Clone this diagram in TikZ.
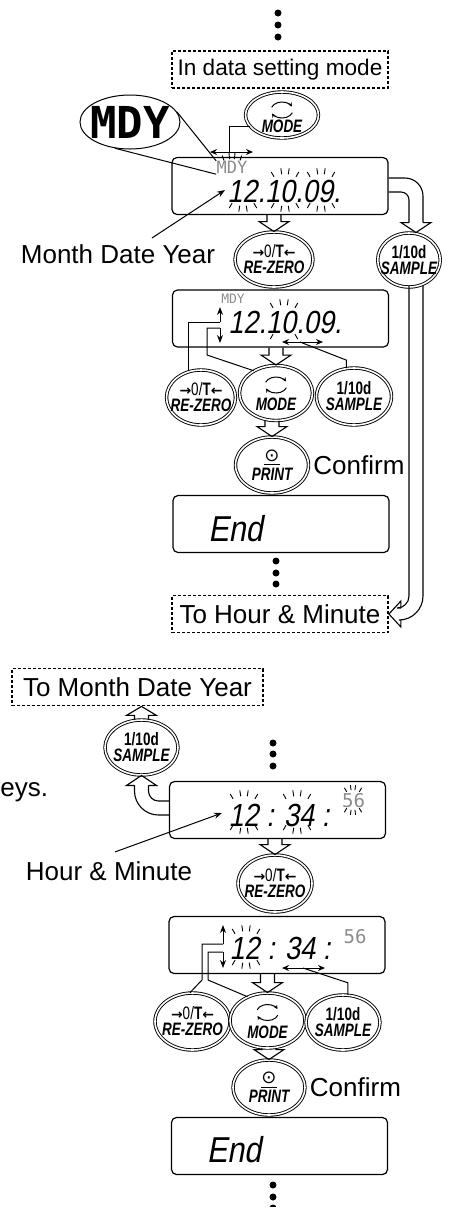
\documentclass[tikz,border=0pt]{standalone}
\usepackage{fontspec}
\setmainfont{Liberation Sans}
\newfontfamily\keyfont[FakeStretch=0.75]{Liberation Sans}
\newfontfamily\segfont[FakeSlant=0.18,FakeStretch=0.85]{Liberation Sans}
\newfontfamily\dotfont{DejaVu Sans Mono}
\newfontfamily\symfont{DejaVu Sans}
\usetikzlibrary{arrows.meta, positioning, shapes.geometric, calc}
\tikzset{
  every picture/.style={line width=0.5pt},
  lcd/.style={draw, rounded corners=2.5pt, minimum width=108pt, minimum height=28.5pt, inner sep=0pt, line width=0.6pt},
  key/.style={draw, ellipse, double, double distance=0.8pt, line width=0.45pt, minimum width=37pt, minimum height=27.5pt, inner xsep=-3pt, inner ysep=0pt, align=center, font=\keyfont\fontsize{9}{8}\selectfont\bfseries},
  gobox/.style={draw, dash pattern=on 1.5pt off 1pt, line width=0.9pt, minimum height=18.5pt, inner sep=1pt, font=\fontsize{13}{15}\selectfont},
  lbl/.style={inner sep=0pt, font=\fontsize{13}{15}\selectfont},
  seg/.style={inner sep=0pt, font=\segfont\fontsize{16}{16}\selectfont},
  dm/.style={inner sep=0pt, text=black!45, font=\dotfont\fontsize{8.5}{8.5}\selectfont},
  hollow/.style={draw, line width=0.55pt, line join=miter},
  conn/.style={draw, line width=0.5pt},
  arr/.style={-{Stealth[length=4pt, width=3pt]}, line width=0.5pt},
  arrs/.style={{Stealth[length=3.5pt, width=3pt]}-{Stealth[length=3.5pt, width=3pt]}, line width=0.5pt},
  tick/.style={line width=0.45pt},
  symarr/.style={-{Stealth[length=2pt, width=2pt]}, line width=0.5pt},
}
\newcommand{\zerokey}{{\symfont\fontsize{7}{7}\selectfont →}\mdseries 0/\bfseries T{\symfont\fontsize{7}{7}\selectfont ←}\\\itshape RE-ZERO}

\begin{document}
\begin{tikzpicture}[x=0.5pt, y=-0.5pt]
  \useasboundingbox (0,0) rectangle (451,1207);
  \newcommand{\hollowdown}[2]{% hollow arrow from the bottom of #1 to the top of #2
    \draw[hollow] ($(#1.south -| #2.north)+(-7,0)$) -- ($(#2.north)+(-7,-10)$) -- ($(#2.north)+(-15,-10)$) -- (#2.north)
      -- ($(#2.north)+(15,-10)$) -- ($(#2.north)+(7,-10)$) -- ($(#1.south -| #2.north)+(7,0)$);}
  \newcommand{\blink}[4]{% centre, inner radii, outer radii, angles
    \foreach \a in {#4} {\draw[tick] ($(#1)+(\a:#2)$) -- ($(#1)+(\a:#3)$);}}
  \newcommand{\modesym}[2]{% circling arrows of a MODE key
    \coordinate (sym) at ($(#1.center)+(0,#2)$);
    \draw[symarr] ($(sym)+(160:5.5pt and 4pt)$) arc[start angle=160, end angle=25, x radius=5.5pt, y radius=4pt];
    \draw[symarr] ($(sym)+(340:5.5pt and 4pt)$) arc[start angle=340, end angle=205, x radius=5.5pt, y radius=4pt];}

  % ---- month date year ----
  \foreach \y in {13,25,37} {\fill (278,\y) circle (1.75pt);}
  \node[gobox, minimum width=108pt, font=\fontsize{11.3}{13}\selectfont] (setmode) at (280,69.5) {In data setting mode};

  \node[draw, ellipse, minimum width=50pt, minimum height=27pt, inner xsep=-3.5pt, inner ysep=-0.5pt,
        font=\dotfont\bfseries\fontsize{22}{22}\selectfont] (mdybig) at (130,122) {MDY};
  \node[key, minimum width=36.5pt, minimum height=23pt, inner ysep=-1.5pt] (modeA) at (282,115) {\rule{0pt}{10pt}\\\itshape MODE};
  \modesym{modeA}{-5}

  \node[lcd] (dispA) at (280,186) {};
  \node[dm] (mdyA) at (232,167.5) {MDY};
  \node[seg] (digA) at (284,191.5) {12.10.09.};
  \blink{232,167}{14 and 8}{17 and 14}{235,260,280,305}
  \blink{243,190}{19 and 16}{24 and 22}{55,80,100,125}
  \blink{285,190}{19 and 16}{24 and 22}{235,260,280,305,55,80,100,125}
  \blink{321,190}{19 and 16}{24 and 22}{235,260,280,305,55,80,100,125}
  \draw[conn] (mdybig.12) -- (mdyA.north west);
  \draw[conn] (mdybig.240) -- (mdyA.south west);
  \coordinate (lrA) at (229,152);
  \draw[arrs] ($(lrA)+(-19,0)$) -- ($(lrA)+(24,0)$);
  \draw[conn] (modeA.200) -| (lrA);

  \node[lbl] (mdylbl) at (118,254) {Month Date Year};
  \coordinate (mdytip) at (225,190);
  \draw[arr] ($(mdylbl.north)+(34,-6)$) -- (mdytip);

  \node[key, minimum width=39pt] (zeroA) at (274,259.5) {\zerokey};
  \node[key, minimum width=31pt, minimum height=27pt] (sampleA) at (409,260) {1/10d\\\itshape SAMPLE};
  \hollowdown{dispA}{zeroA}

  % to hour and minute, round the right side
  \coordinate (tipA) at ($(sampleA.north)+(7,0)$);
  \draw[hollow, rounded corners=9pt] ($(dispA.east)+(0,-8)$) -| ($(tipA)+(7,-10)$);
  \draw[hollow, rounded corners=4pt] ($(dispA.east)+(0,6)$) -| ($(tipA)+(-7,-10)$);
  \draw[hollow] ($(tipA)+(-7,-10)$) -- ($(tipA)+(-15,-10)$) -- (tipA) -- ($(tipA)+(15,-10)$) -- ($(tipA)+(7,-10)$);

  \node[lcd] (dispB) at (280.5,318.5) {};
  \node[dm, font=\dotfont\fontsize{6.5}{6.5}\selectfont] (mdyB) at (233,299) {MDY};
  \node[seg] (digB) at (285,322) {12.10.09.};
  \blink{284,321}{19 and 16}{24 and 22}{235,260,280,305,55,125}

  \node[key, minimum width=34pt] (zeroB) at (201,397.5) {\zerokey};
  \node[key, minimum width=36.5pt] (modeB) at (276,393) {\rule{0pt}{10pt}\\\itshape MODE};
  \node[key, minimum width=37.5pt, minimum height=28.5pt] (sampleB) at (354,396.5) {1/10d\\\itshape SAMPLE};
  \modesym{modeB}{-8}
  \hollowdown{dispB}{modeB}
  \coordinate (upB) at (220,322);
  \coordinate (downB) at (220,328);
  \coordinate (lrB) at (300,342);
  \draw[arr] (upB) -- ++(0,-15);
  \draw[arr] (downB) -- ++(0,15);
  \draw[arrs] ($(lrB)+(-18,0)$) -- ($(lrB)+(23,0)$);
  \draw[conn] (zeroB.116) |- (upB);
  \draw[conn] (modeB.135) -- ($(downB)+(-13,27)$) |- (downB);
  \draw[conn] (sampleB.105) -- ++(0,-8) -- (lrB);

  \node[key, minimum width=36.5pt, minimum height=28pt] (printA) at (272,465) {\underline{\symfont\mdseries ⊙}\\\itshape PRINT};
  \node[lbl, right=2pt of printA] (confA) {Confirm};
  \hollowdown{modeB}{printA}

  \node[lcd] (endA) at (281,524) {};
  \node[seg, font=\segfont\fontsize{18}{18}\selectfont] (endtxtA) at (235.5,528.5) {End};
  \foreach \y in {561,573,584} {\fill (276,\y) circle (1.75pt);}
  \node[gobox, minimum width=108pt] (tohour) at (280,614) {To Hour \& Minute};

  % long pipe from the SAMPLE key down to "To Hour & Minute"
  \coordinate (pipeTop) at ($(sampleA.south)+(7,-2)$);
  \draw[hollow, rounded corners=6pt] ($(pipeTop)+(-7,0)$) |- ($(tohour.east)+(12,-6)$);
  \draw[hollow, rounded corners=12pt] ($(pipeTop)+(7,0)$) |- ($(tohour.east)+(12,6)$);
  \draw[hollow] ($(tohour.east)+(12,-6)$) -- ($(tohour.east)+(12,-13)$) -- (tohour.east) -- ($(tohour.east)+(12,13)$) -- ($(tohour.east)+(12,6)$);

  % ---- hour and minute ----
  \node[gobox, minimum width=125.5pt] (tomdy) at (137.5,687) {To Month Date Year};
  \node[key, minimum width=36.5pt] (sampleC) at (141.5,747.5) {1/10d\\\itshape SAMPLE};
  \draw[hollow] ($(sampleC.north)+(-7,0)$) -- ($(sampleC.north |- tomdy.south)+(-7,9)$) -- ($(sampleC.north |- tomdy.south)+(-15,9)$)
    -- (sampleC.north |- tomdy.south) -- ($(sampleC.north |- tomdy.south)+(15,9)$) -- ($(sampleC.north |- tomdy.south)+(7,9)$) -- ($(sampleC.north)+(7,0)$);
  \node[lbl, anchor=base west] (keysnote) at (0,796) {eys.};

  \foreach \y in {743,754,766} {\fill (273,\y) circle (1.75pt);}
  \node[lcd] (dispC) at (277.5,810) {};
  \node[seg] (digC) at (279,815) {12 : 34 :};
  \node[dm, font=\dotfont\fontsize{9.5}{9.5}\selectfont] (secC) at (353.5,801) {56};
  \blink{244,812}{19 and 16}{24 and 22}{235,260,280,305,55,80,100,125}
  \blink{297,812}{19 and 16}{24 and 22}{235,260,280,305,55,80,100,125}
  \blink{353,800}{11 and 10}{15 and 15}{235,260,280,305,55,80,100,125}

  \coordinate (tipC) at (sampleC.south);
  \draw[hollow, rounded corners=5pt] ($(dispC.west)+(0,-9)$) -| ($(tipC)+(7,10)$);
  \draw[hollow, rounded corners=12pt] ($(dispC.west)+(0,5)$) -| ($(tipC)+(-7,10)$);
  \draw[hollow] ($(tipC)+(7,10)$) -- ($(tipC)+(15,10)$) -- (tipC) -- ($(tipC)+(-15,10)$) -- ($(tipC)+(-7,10)$);

  \node[lbl] (hmlbl) at (109,871) {Hour \& Minute};
  \coordinate (hmtip) at (222,813);
  \draw[arr] ($(hmlbl.north)+(6,-9)$) -- (hmtip);

  \node[key, minimum width=37pt, minimum height=28.5pt] (zeroC) at (275,883.5) {\zerokey};
  \hollowdown{dispC}{zeroC}

  \node[lcd] (dispD) at (277,945) {};
  \node[seg] (digD) at (280,948) {12 : 34 :};
  \node[dm, font=\dotfont\fontsize{9.5}{9.5}\selectfont] (secD) at (355,937) {56};
  \blink{246,947}{19 and 16}{24 and 22}{235,260,280,305,55,80,100,125}

  \node[key, minimum width=37.5pt, minimum height=28.5pt] (zeroD) at (192.5,1021.5) {\zerokey};
  \node[key, minimum width=37.5pt] (modeD) at (267.5,1020.5) {\rule{0pt}{10pt}\\\itshape MODE};
  \node[key] (sampleD) at (343,1022.5) {1/10d\\\itshape SAMPLE};
  \modesym{modeD}{-8}
  \hollowdown{dispD}{modeD}
  \coordinate (upD) at (223,944);
  \coordinate (downD) at (223,952);
  \coordinate (lrD) at (303,968);
  \draw[arr] (upD) -- ++(0,-19);
  \draw[arr] (downD) -- ++(0,16);
  \draw[arrs] ($(lrD)+(-21,0)$) -- ($(lrD)+(22,0)$);
  \draw[conn] (zeroD.95) -- ($(upD)+(-21,36)$) |- (upD);
  \draw[conn] (modeD.130) -- ($(downD)+(-15,28)$) |- (downD);
  \draw[conn] (sampleD.80) -- ++(0,-12) -- (lrD);

  \node[key, minimum width=36pt] (printB) at (269,1087.5) {\underline{\symfont\mdseries ⊙}\\\itshape PRINT};
  \node[lbl, right=2pt of printB] (confB) {Confirm};
  \hollowdown{modeD}{printB}

  \node[lcd] (endB) at (279.5,1146) {};
  \node[seg, font=\segfont\fontsize{18}{18}\selectfont] (endtxtB) at (234,1150) {End};
  \foreach \y in {1185,1197,1208} {\fill (273,\y) circle (1.75pt);}
\end{tikzpicture}
\end{document}
